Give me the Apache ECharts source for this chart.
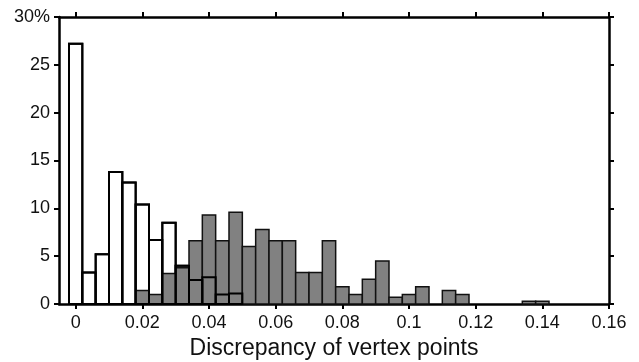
<!DOCTYPE html>
<html>
<head>
<meta charset="utf-8">
<script src="https://cdn.jsdelivr.net/npm/echarts@6/dist/echarts.min.js"></script>
<style>
  html, body { margin: 0; padding: 0; background: #fff; }
  #chart { width: 639px; height: 362px; }
</style>
</head>
<body>
<div id="chart"></div>
<script>
// bin centres (discrepancy), each bin 0.004 wide
const binCenters = [
  0, 0.004, 0.008, 0.012, 0.016, 0.020, 0.024, 0.028, 0.032, 0.036,
  0.040, 0.044, 0.048, 0.052, 0.056, 0.060, 0.064, 0.068, 0.072, 0.076,
  0.080, 0.084, 0.088, 0.092, 0.096, 0.100, 0.104, 0.108, 0.112, 0.116,
  0.120, 0.124, 0.128, 0.132, 0.136, 0.140
];
// percent per bin, open (white) histogram
const whiteValues = [
  27.2, 3.3, 5.2, 13.8, 12.7, 10.4, 6.7, 8.5, 4.0, 2.5,
  2.8, 1.0, 1.1, 0, 0, 0, 0, 0, 0, 0,
  0, 0, 0, 0, 0, 0, 0, 0, 0, 0,
  0, 0, 0, 0, 0, 0
];
// percent per bin, filled (gray) histogram
const grayValues = [
  0, 0, 0, 0, 0, 1.4, 1.0, 3.2, 3.8, 6.6,
  9.3, 6.6, 9.6, 6.0, 7.8, 6.6, 6.6, 3.3, 3.3, 6.6,
  1.8, 1.0, 2.6, 4.5, 0.7, 1.0, 1.8, 0, 1.4, 1.0,
  0, 0, 0, 0, 0.3, 0.3
];
const xTicks = [0, 0.02, 0.04, 0.06, 0.08, 0.1, 0.12, 0.14, 0.16];
const xTickLabels = ["0", "0.02", "0.04", "0.06", "0.08", "0.1", "0.12", "0.14", "0.16"];
const yTickLabels = ["0", "5", "10", "15", "20", "25", "30%"];
const binWidth = 0.004;

const font = "'Liberation Sans', Arial, sans-serif";

function binRenderer(fill, stroke, lineWidth) {
  return (params, api) => {
    const x = api.value(0);
    const y = api.value(1);
    if (!y) return null;
    const topLeft = api.coord([x - binWidth / 2, y]);
    const bottomRight = api.coord([x + binWidth / 2, 0]);
    return {
      type: "rect",
      shape: {
        x: topLeft[0],
        y: topLeft[1],
        width: bottomRight[0] - topLeft[0],
        height: bottomRight[1] - topLeft[1],
      },
      style: { fill: fill, stroke: stroke, lineWidth: lineWidth },
    };
  };
}

const pairs = (values) => binCenters.map((c, i) => [c, values[i]]);

const tickStyle = { show: true, inside: false, length: 5, lineStyle: { color: "#000", width: 2 } };
const lineStyle = { show: true, onZero: false, lineStyle: { color: "#000", width: 2.5 } };

const chart = echarts.init(document.getElementById("chart"), null, { renderer: "canvas" });
chart.setOption({
  backgroundColor: "#fff",
  animation: false,
  grid: { left: 59, right: 30, top: 17, bottom: 58, containLabel: false, outerBoundsMode: "none" },
  xAxis: [
    {
      type: "value",
      position: "bottom",
      min: -0.005,
      max: 0.16,
      axisLine: lineStyle,
      axisTick: Object.assign({ customValues: xTicks }, tickStyle),
      axisLabel: {
        customValues: xTicks,
        formatter: (v) => xTickLabels[xTicks.findIndex((t) => Math.abs(t - v) < 1e-9)],
        color: "#111",
        fontFamily: font,
        fontSize: 18,
        margin: 10,
      },
      splitLine: { show: false },
      name: "Discrepancy of vertex points",
      nameLocation: "middle",
      nameGap: 31,
      nameTextStyle: { color: "#111", fontFamily: font, fontSize: 23 },
    },
    {
      type: "value",
      position: "top",
      min: -0.005,
      max: 0.16,
      axisLine: lineStyle,
      axisTick: Object.assign({ customValues: xTicks }, tickStyle),
      axisLabel: { show: false },
      splitLine: { show: false },
    },
  ],
  yAxis: [
    {
      type: "value",
      position: "left",
      min: 0,
      max: 30,
      interval: 5,
      axisLine: lineStyle,
      axisTick: tickStyle,
      axisLabel: {
        formatter: (v) => yTickLabels[Math.round(v / 5)],
        color: "#111",
        fontFamily: font,
        fontSize: 18,
        margin: 9,
      },
      splitLine: { show: false },
    },
    {
      type: "value",
      position: "right",
      min: 0,
      max: 30,
      interval: 5,
      axisLine: lineStyle,
      axisTick: tickStyle,
      axisLabel: { show: false },
      splitLine: { show: false },
    },
  ],
  series: [
    {
      type: "custom",
      z: 1,
      renderItem: binRenderer("#fff", "#000", 2),
      data: pairs(whiteValues),
    },
    {
      type: "custom",
      z: 2,
      renderItem: binRenderer("#818181", "#111", 1.5),
      data: pairs(grayValues),
    },
    {
      type: "custom",
      z: 3,
      renderItem: binRenderer("none", "#000", 2),
      data: pairs(whiteValues),
    },
  ],
});
</script>
</body>
</html>
